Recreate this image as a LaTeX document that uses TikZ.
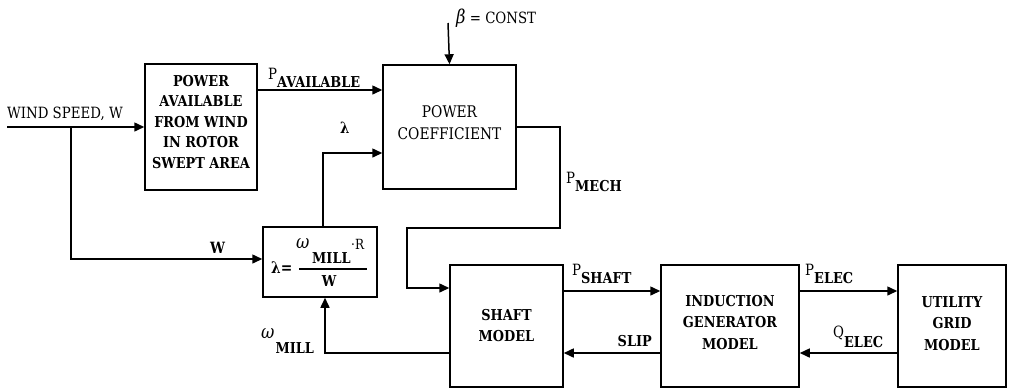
\documentclass[tikz,border=0pt]{standalone}
\usepackage{fontspec}
\setmainfont[FakeStretch=0.86]{DejaVu Serif}
\usetikzlibrary{arrows.meta,calc}
\newcommand{\lsub}[3][8pt]{#2\raisebox{-#1}{\bfseries\fontsize{15}{15}\selectfont #3}}
\begin{document}
\begin{tikzpicture}[x=1pt,y=-1pt,
  blk/.style={draw,line width=1.5pt,inner sep=0pt},
  btxt/.style={inner sep=0pt,align=center,font=\bfseries\fontsize{15}{21.5}\selectfont},
  arr/.style={line width=1.5pt,-{Triangle[length=10pt,width=9pt]}},
  lbl/.style={inner sep=0pt,anchor=base west,font=\fontsize{15.5}{18}\selectfont}]
\useasboundingbox (0,0) rectangle (1009,389);

% blocks
\node[blk,minimum width=112pt,minimum height=126pt] (pav) at (201,127) {};
\node[blk,minimum width=133pt,minimum height=124pt] (pc) at (449.5,127) {};
\node[blk,minimum width=114pt,minimum height=70pt] (lam) at (320,262) {};
\node[blk,minimum width=113pt,minimum height=122pt] (shaft) at (506.5,326) {};
\node[blk,minimum width=138pt,minimum height=122pt] (ind) at (730,326) {};
\node[blk,minimum width=108pt,minimum height=122pt] (util) at (952,326) {};

% block texts
\node[btxt,font=\bfseries\fontsize{15}{20.5}\selectfont] (pavt) at ($(pav.center)+(0,-5)$) {POWER\\AVAILABLE\\FROM WIND\\IN ROTOR\\SWEPT AREA};
\node[btxt,font=\fontsize{16}{22.5}\selectfont] (pct) at ($(pc.center)+(0,-4.5)$) {POWER\\COEFFICIENT};
\node[btxt] (shaftt) at ($(shaft.center)+(0,-0.5)$) {SHAFT\\MODEL};
\node[btxt] (indt) at ($(ind.center)+(0,-3.5)$) {INDUCTION\\GENERATOR\\MODEL};
\node[btxt] (utilt) at ($(util.center)+(0,-2.5)$) {UTILITY\\GRID\\MODEL};

% formula inside lambda block
\node[lbl,font=\bfseries\fontsize{16}{16}\selectfont] (flam) at (271,273) {λ=};
\draw[line width=1.2pt] (299,269) -- (367,269);
\node[lbl,font=\itshape\fontsize{19}{19}\selectfont] (fom) at (296,248) {ω};
\node[lbl,font=\bfseries\fontsize{15}{15}\selectfont] (fmill) at (312,263) {MILL};
\node[lbl,font=\fontsize{14}{14}\selectfont] (fr) at (351,249) {·R};
\node[lbl,anchor=base,font=\bfseries\fontsize{15}{15}\selectfont] (fw) at (329,286) {W};

% coordinates
\coordinate (ws) at (7,127);
\coordinate (br) at (71,127);
\coordinate (bt) at (448,23);

% connectors
\draw[arr] (ws) -- (pav.west);
\draw[arr] (br) |- ([yshift=3pt]lam.west);
\draw[arr] (pav.east |- 0,90) -- (pc.west |- 0,90);
\draw[arr] ([xshift=3pt]lam.north) |- (pc.west |- 0,153);
\draw[arr] (bt) -- (pc.north);
\draw[arr] (pc.east) -- (560,127) -- (560,228) -- (407,228) -- (407,288) -- (shaft.west |- 0,288);
\draw[arr] (shaft.west |- 0,353) -| ([xshift=5pt]lam.south);
\draw[arr] (shaft.east |- 0,291) -- (ind.west |- 0,291);
\draw[arr] (ind.west |- 0,353) -- (shaft.east |- 0,353);
\draw[arr] (ind.east |- 0,291) -- (util.west |- 0,291);
\draw[arr] (util.west |- 0,353) -- (ind.east |- 0,353);

% labels
\node[lbl] (lwind) at (7,118) {WIND SPEED, W};
\node[lbl] (lpav) at (268,79) {\lsub{P}{AVAILABLE}};
\node[lbl,font=\bfseries\fontsize{15.5}{18}\selectfont] (llam) at (340,133) {λ};
\node[lbl] (lbeta) at (456,23) {{\itshape\fontsize{19}{19}\selectfont β} = CONST};
\node[lbl] (lpm) at (566,183) {\lsub{P}{MECH}};
\node[lbl,font=\bfseries\fontsize{15.5}{18}\selectfont] (lw) at (210,253) {W};
\node[lbl] (lom) at (261,338) {{\itshape\fontsize{19}{19}\selectfont ω}\hspace{1pt}\raisebox{-15pt}{\bfseries\fontsize{15}{15}\selectfont MILL}};
\node[lbl] (lps) at (572,275) {\lsub{P}{SHAFT}};
\node[lbl,anchor=base east,font=\bfseries\fontsize{15}{15}\selectfont] (lslip) at (652,346) {SLIP};
\node[lbl] (lpe) at (805,275) {\lsub{P}{ELEC}};
\node[lbl] (lqe) at (833,337) {\lsub[10pt]{Q}{ELEC}};
\end{tikzpicture}
\end{document}
